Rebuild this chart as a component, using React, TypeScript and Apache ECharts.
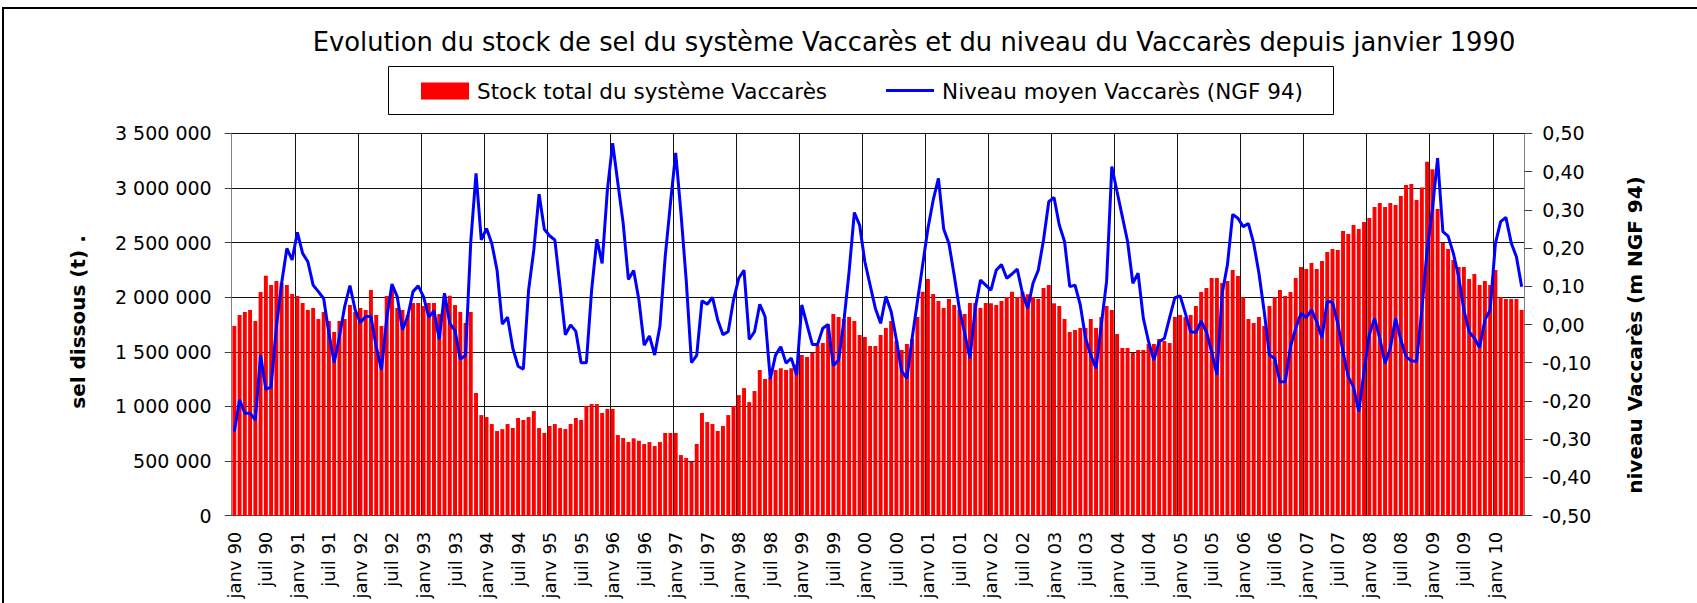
import React, { useEffect, useRef } from 'react';
import * as echarts from 'echarts';

// ---- Data ----
const MONTH_NAMES = ['janv', 'févr', 'mars', 'avr', 'mai', 'juin', 'juil', 'août', 'sept', 'oct', 'nov', 'déc'];
const FIRST_YEAR = 1990;

// Stock total du système Vaccarès (tonnes), monthly from janv 1990
const stockTotal = [
  1736000, 1837000, 1864000, 1882000, 1782000, 2047000, 2197000, 2111000, 2148000, 2130000, 2111000, 2029000,
  2011000, 1947000, 1882000, 1901000, 1800000, 1864000, 1782000, 1681000, 1782000, 1800000, 1928000, 1864000,
  1901000, 1882000, 2066000, 1837000, 1736000, 2011000, 2096000, 1901000, 1882000, 1837000, 1947000, 1947000,
  1919000, 1947000, 1947000, 1846000, 2014000, 2014000, 1928000, 1864000, 1763000, 1864000, 1123000, 921000,
  903000, 839000, 775000, 792000, 839000, 802000, 894000, 876000, 903000, 958000, 802000, 757000,
  821000, 839000, 802000, 793000, 839000, 894000, 876000, 1004000, 1022000, 1022000, 940000, 977000,
  977000, 738000, 711000, 674000, 708000, 686000, 656000, 674000, 638000, 674000, 757000, 757000,
  757000, 555000, 528000, 494000, 656000, 940000, 857000, 839000, 775000, 821000, 921000, 1004000,
  1104000, 1168000, 1040000, 1141000, 1333000, 1251000, 1262000, 1333000, 1350000, 1333000, 1349000, 1385000,
  1471000, 1452000, 1489000, 1562000, 1580000, 1751000, 1846000, 1818000, 1800000, 1818000, 1782000, 1654000,
  1635000, 1553000, 1553000, 1654000, 1718000, 1782000, 1599000, 1516000, 1571000, 1617000, 1818000, 2050000,
  2166000, 2029000, 1965000, 1901000, 1983000, 1928000, 1882000, 1846000, 1947000, 1947000, 1901000, 1947000,
  1944000, 1928000, 1965000, 2002000, 2050000, 2002000, 2050000, 2026000, 2002000, 1983000, 2084000, 2111000,
  1944000, 1919000, 1800000, 1681000, 1700000, 1718000, 1718000, 1800000, 1718000, 1818000, 1919000, 1882000,
  1663000, 1535000, 1535000, 1489000, 1516000, 1516000, 1571000, 1571000, 1617000, 1599000, 1580000, 1818000,
  1837000, 1818000, 1837000, 1919000, 2047000, 2084000, 2175000, 2175000, 2130000, 2148000, 2249000, 2194000,
  2002000, 1800000, 1764000, 1818000, 1736000, 1919000, 2002000, 2066000, 2011000, 2047000, 2175000, 2276000,
  2258000, 2313000, 2258000, 2331000, 2413000, 2441000, 2432000, 2606000, 2579000, 2661000, 2624000, 2688000,
  2724000, 2825000, 2862000, 2825000, 2862000, 2843000, 2926000, 3027000, 3036000, 2889000, 3005000, 3240000,
  3170000, 2807000, 2496000, 2441000, 2340000, 2276000, 2276000, 2166000, 2212000, 2111000, 2148000, 2111000,
  2249000, 2002000, 1983000, 1983000, 1983000, 1882000,
];

// Niveau moyen Vaccarès (m NGF 94), monthly from janv 1990
const niveauMoyen = [
  -0.280, -0.197, -0.232, -0.232, -0.250, -0.080, -0.170, -0.163, -0.006, 0.108, 0.199, 0.169,
  0.241, 0.186, 0.164, 0.103, 0.086, 0.068, -0.023, -0.100, -0.032, 0.047, 0.102, 0.038,
  0.005, 0.021, 0.021, -0.058, -0.119, 0.016, 0.106, 0.073, -0.014, 0.021, 0.086, 0.101,
  0.073, 0.019, 0.036, -0.039, 0.082, 0.003, -0.016, -0.091, -0.080, 0.217, 0.395, 0.221,
  0.251, 0.212, 0.142, 0.001, 0.019, -0.062, -0.109, -0.117, 0.090, 0.195, 0.341, 0.249,
  0.232, 0.221, 0.099, -0.027, -0.001, -0.018, -0.100, -0.100, 0.090, 0.223, 0.160, 0.352,
  0.474, 0.369, 0.265, 0.118, 0.141, 0.064, -0.054, -0.030, -0.080, -0.004, 0.177, 0.317,
  0.449, 0.291, 0.116, -0.100, -0.081, 0.062, 0.053, 0.071, 0.012, -0.027, -0.018, 0.064,
  0.121, 0.142, -0.039, -0.019, 0.053, 0.021, -0.143, -0.080, -0.058, -0.101, -0.088, -0.132,
  0.051, -0.001, -0.052, -0.052, -0.010, 0.000, -0.108, -0.093, 0.007, 0.138, 0.293, 0.260,
  0.164, 0.103, 0.042, 0.003, 0.073, 0.034, -0.040, -0.122, -0.141, -0.036, 0.060, 0.156,
  0.251, 0.325, 0.382, 0.250, 0.212, 0.129, 0.040, -0.023, -0.089, 0.042, 0.116, 0.103,
  0.090, 0.142, 0.157, 0.121, 0.132, 0.145, 0.081, 0.042, 0.108, 0.142, 0.221, 0.321,
  0.332, 0.260, 0.217, 0.099, 0.103, 0.051, -0.036, -0.080, -0.115, -0.001, 0.112, 0.413,
  0.347, 0.282, 0.217, 0.108, 0.134, 0.016, -0.045, -0.093, -0.045, -0.036, 0.018, 0.070,
  0.075, 0.029, -0.019, -0.021, 0.009, -0.019, -0.071, -0.132, 0.081, 0.156, 0.288, 0.278,
  0.256, 0.264, 0.212, 0.134, 0.034, -0.080, -0.089, -0.150, -0.150, -0.058, -0.010, 0.029,
  0.018, 0.038, 0.007, -0.035, 0.061, 0.058, 0.003, -0.071, -0.137, -0.163, -0.228, -0.123,
  -0.027, 0.016, -0.036, -0.102, -0.062, 0.016, -0.040, -0.084, -0.095, -0.097, 0.038, 0.195,
  0.299, 0.435, 0.243, 0.231, 0.186, 0.125, 0.038, -0.019, -0.036, -0.060, 0.012, 0.038,
  0.212, 0.269, 0.280, 0.214, 0.177, 0.099,
];

const categories = stockTotal.map((_, i) => {
  const yr = (FIRST_YEAR + Math.floor(i / 12)) % 100;
  return `${MONTH_NAMES[i % 12]} ${String(yr).padStart(2, '0')}`;
});

const TITLE = 'Evolution du stock de sel du système Vaccarès et du niveau du Vaccarès depuis janvier 1990';
const SERIES_BAR = 'Stock total du système Vaccarès';
const SERIES_LINE = 'Niveau moyen Vaccarès (NGF 94)';
const NAME_LEFT = 'sel dissous (t) .';
const NAME_RIGHT = 'niveau Vaccarès (m NGF 94)';

const FONT = '"DejaVu Sans", Verdana, sans-serif';

function fmtThousands(v: number): string {
  if (v === 0) return '0';
  return Math.round(v).toString().replace(/\B(?=(\d{3})+(?!\d))/g, ' ');
}
function fmtLevel(v: number): string {
  const r = Math.abs(v) < 1e-9 ? 0 : v;
  return r.toFixed(2).replace('.', ',');
}

export default function App() {
  const ref = useRef<HTMLDivElement>(null);
  useEffect(() => {
    if (!ref.current) return;
    const chart = echarts.init(ref.current, undefined, { renderer: 'svg' });
    const option: any = {
      animation: false,
      backgroundColor: '#ffffff',
      textStyle: { fontFamily: FONT, color: '#000' },
      title: {
        text: TITLE,
        left: 914,
        textAlign: 'center',
        top: 29,
        padding: 0,
        textStyle: { fontFamily: FONT, fontSize: 25.8, fontWeight: 'normal', color: '#000' },
      },
      legend: {
        left: 421,
        top: 80,
        padding: 0,
        itemWidth: 48,
        itemHeight: 17,
        itemGap: 59,
        textStyle: { fontFamily: FONT, fontSize: 21.5, color: '#000', padding: [0, 0, 0, 3] },
        data: [
          { name: SERIES_BAR, icon: 'rect' },
          { name: SERIES_LINE, icon: 'path://M0,0 M48,17 M0,6.5 L48,6.5 L48,9.5 L0,9.5 Z' },
        ],
      },
      grid: { left: 231.7, top: 133.3, width: 1292.6, height: 382.4, containLabel: false },
      xAxis: {
        type: 'category',
        data: categories,
        boundaryGap: true,
        axisLine: { show: true, lineStyle: { color: '#404040', width: 1 } },
        axisTick: { show: false },
        axisLabel: {
          interval: (idx: number) => idx % 6 === 0,
          rotate: 90,
          margin: 16,
          fontFamily: FONT,
          fontSize: 18,
          color: '#000',
        },
        splitLine: {
          show: true,
          interval: (idx: number) => idx % 12 === 0,
          lineStyle: { color: '#111', width: 1 },
        },
      },
      yAxis: [
        {
          type: 'value',
          min: 0,
          max: 3500000,
          interval: 500000,
          position: 'left',
          axisLine: { show: true, lineStyle: { color: '#808080', width: 1 } },
          axisTick: { show: true, length: 7, lineStyle: { color: '#404040' } },
          axisLabel: { formatter: fmtThousands, margin: 20, fontFamily: FONT, fontSize: 19, color: '#000' },
          splitLine: { show: true, lineStyle: { color: '#111', width: 1 } },
        },
        {
          type: 'value',
          min: -0.5,
          max: 0.5,
          interval: 0.1,
          position: 'right',
          axisLine: { show: true, lineStyle: { color: '#808080', width: 1 } },
          axisTick: { show: true, length: 8, lineStyle: { color: '#404040' } },
          axisLabel: { formatter: fmtLevel, margin: 18, fontFamily: FONT, fontSize: 19, color: '#000' },
          splitLine: { show: false },
        },
      ],
      series: [
        {
          name: SERIES_BAR,
          type: 'bar',
          yAxisIndex: 0,
          data: stockTotal,
          barCategoryGap: '25%',
          itemStyle: { color: '#FF0000' },
        },
        {
          name: SERIES_LINE,
          type: 'line',
          yAxisIndex: 1,
          data: niveauMoyen,
          symbol: 'none',
          showSymbol: false,
          lineStyle: { color: '#0000FF', width: 3 },
          itemStyle: { color: '#0000FF' },
        },
      ],
      graphic: [
        {
          type: 'rect',
          silent: true,
          shape: { x: 3, y: 8, width: 1760, height: 700 },
          style: { fill: 'none', stroke: '#000', lineWidth: 2 },
        },
        {
          type: 'rect',
          silent: true,
          shape: { x: 388.5, y: 66.5, width: 945, height: 48 },
          style: { fill: 'none', stroke: '#000', lineWidth: 1 },
        },
        {
          type: 'text',
          silent: true,
          x: 78,
          y: 322,
          rotation: Math.PI / 2,
          style: {
            text: NAME_LEFT,
            font: `bold 20px ${FONT}`,
            fill: '#000',
            textAlign: 'center',
            textVerticalAlign: 'middle',
          },
        },
        {
          type: 'text',
          silent: true,
          x: 1635,
          y: 335,
          rotation: Math.PI / 2,
          style: {
            text: NAME_RIGHT,
            font: `bold 20px ${FONT}`,
            fill: '#000',
            textAlign: 'center',
            textVerticalAlign: 'middle',
          },
        },
      ],
    };
    chart.setOption(option);
    return () => chart.dispose();
  }, []);
  return <div ref={ref} style={{ position: 'absolute', left: 0, top: 0, width: 1697, height: 603 }} />;
}
